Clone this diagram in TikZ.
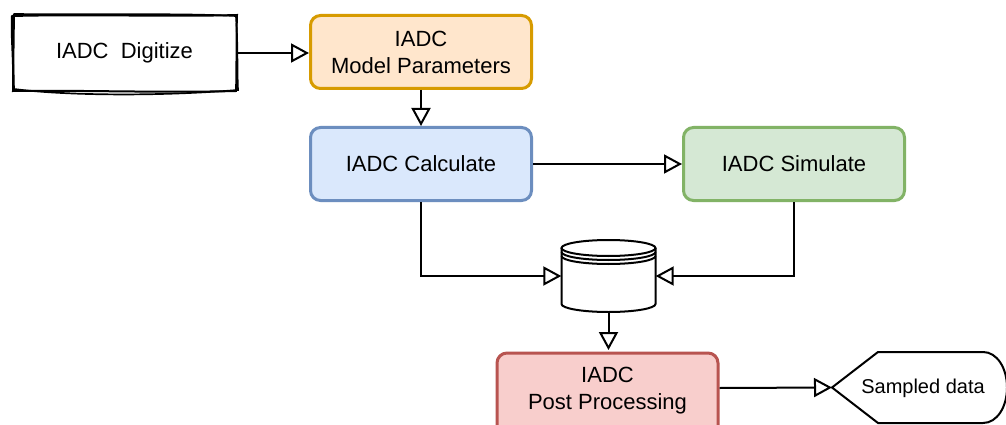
\documentclass[tikz,border=0pt]{standalone}
\usepackage{fontspec}
\setmainfont{Liberation Sans}
\usetikzlibrary{arrows.meta}

\definecolor{orangefill}{HTML}{FFE6CC}
\definecolor{orangeline}{HTML}{D79B00}
\definecolor{bluefill}{HTML}{DAE8FC}
\definecolor{blueline}{HTML}{6C8EBF}
\definecolor{greenfill}{HTML}{D5E8D4}
\definecolor{greenline}{HTML}{82B366}
\definecolor{redfill}{HTML}{F8CECC}
\definecolor{redline}{HTML}{B85450}

\begin{document}
\begin{tikzpicture}[x=1pt,y=-1pt]
\tikzstyle{every node}=[font=\fontsize{22}{27}\selectfont]
\tikzstyle{block}=[rectangle, rounded corners=10pt, line width=3pt, minimum width=221pt, minimum height=73pt, align=center]
\tikzstyle{link}=[line width=2pt, -{Triangle[open,length=18pt,width=19pt]}]

% white page
\useasboundingbox [fill=white] (0,0) rectangle (1006,425);

% sketchy input box
\node [minimum width=225pt, minimum height=77pt, inner sep=0pt] (digit) at (124.5,53) {IADC\ \ Digitize};
\draw [line width=2pt, line cap=round]
  (12,16) .. controls (90,14) and (170,17) .. (237,15)
  .. controls (236,40) and (237,70) .. (236,91)
  .. controls (160,93) and (80,90) .. (13,91)
  .. controls (14,60) and (11,40) .. (12,16);
\draw [line width=1.7pt, line cap=round]
  (14,14) .. controls (100,15) and (180,13) .. (236,16)
  .. controls (238,45) and (237,70) .. (238,90)
  .. controls (150,97) and (60,95) .. (14,89)
  .. controls (13,60) and (14,40) .. (14,14);

% process blocks
\node [block, fill=orangefill, draw=orangeline] (param) at (421,52) {IADC\\Model Parameters};
\node [block, fill=bluefill, draw=blueline] (calc) at (421,164) {IADC Calculate};
\node [block, fill=greenfill, draw=greenline] (sim) at (794,164) {IADC Simulate};
% the last block runs past the lower edge
\node [block, fill=redfill, draw=redline, minimum height=95pt, anchor=north] (postbox) at (607.5,351.5) {};
\node [block, text depth=0pt] (post) at (607.5,388) {IADC\\Post Processing};

% data store
\node [minimum width=94pt, minimum height=72pt, inner sep=0pt] (store) at (608.5,276) {};
\draw [line width=2pt, fill=white] (561.5,248) -- (561.5,304)
  arc [start angle=180, end angle=0, x radius=47, y radius=8] -- (655.5,248);
\draw [line width=2pt, fill=white] (608.5,248) ellipse [x radius=47, y radius=8];
\draw [line width=2pt] (561.5,252) arc [start angle=180, end angle=0, x radius=47, y radius=8];
\draw [line width=2pt] (561.5,256) arc [start angle=180, end angle=0, x radius=47, y radius=8];

% output display
\coordinate (datatip) at (832,387.5);
\draw [line width=2pt] (datatip) -- (878,352) -- (983,352)
  .. controls (997,352) and (1007,368) .. (1007,387.5)
  .. controls (1007,407) and (997,423) .. (983,423) -- (878,423) -- cycle;
\node [font=\fontsize{20}{24}\selectfont] (data) at (923,388) {Sampled data};

% connectors
\draw [link] (digit.east) -- (digit.east -| param.west);
\draw [link] (param) -- (calc);
\draw [link] (calc) -- (sim);
\draw [link] (calc.south) |- (store.west);
\draw [link] (sim.south) |- (store.east);
\draw [link] (store.south) -- (store.south |- post.north);
\draw [link] (post.east) -- (datatip);

\end{tikzpicture}
\end{document}
